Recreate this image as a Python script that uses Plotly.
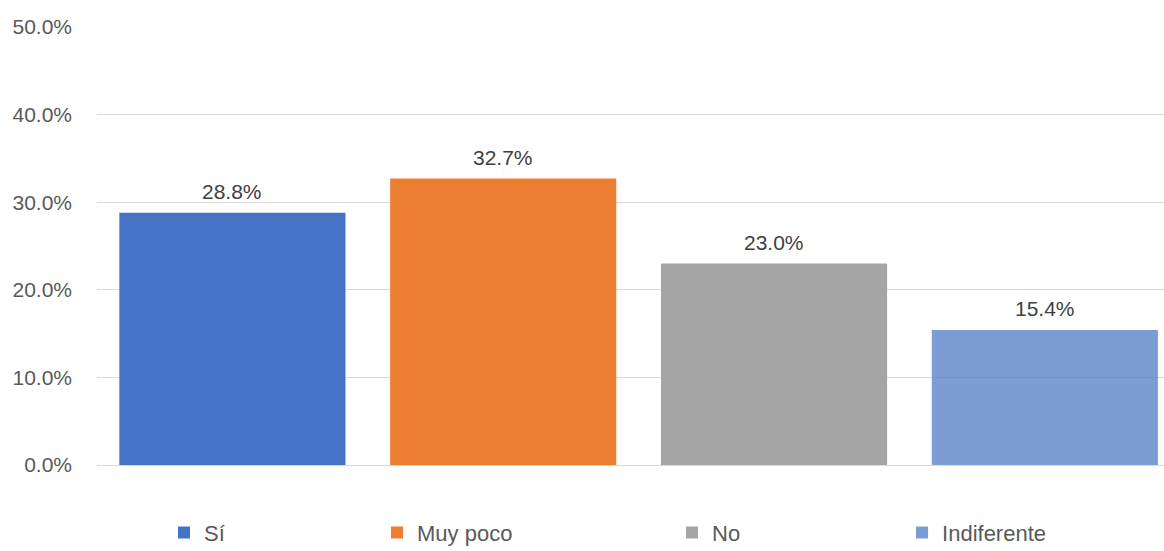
import plotly.graph_objects as go

categories = ["Sí", "Muy poco", "No", "Indiferente"]
values = [0.288, 0.327, 0.230, 0.154]
colors = ["#4472C4", "#ED7D31", "#A5A5A5", "rgba(68,114,196,0.7)"]
legend_x = [0.0628, 0.2624, 0.5389, 0.7545]

FONT = "Liberation Sans, Arial, sans-serif"

fig = go.Figure()
legend_names = ["legend", "legend2", "legend3", "legend4"]
for i, (cat, val) in enumerate(zip(categories, values)):
    fig.add_trace(go.Bar(
        x=[cat], y=[val], name=cat,
        marker=dict(color=colors[i], line=dict(width=0)),
        width=0.835,
        legend=legend_names[i],
    ))
    fig.add_annotation(
        x=cat, y=val, xref="x", yref="y",
        text=f"{val:.1%}", showarrow=False,
        yanchor="bottom", yshift=8,
        font=dict(family=FONT, size=21, color="#404040"),
    )

layout_legends = {}
for i, ln in enumerate(legend_names):
    layout_legends[ln] = dict(
        x=legend_x[i], xanchor="left",
        y=0.033, yref="container", yanchor="middle",
        orientation="h", bgcolor="rgba(0,0,0,0)",
        font=dict(family=FONT, size=22, color="#595959"),
    )

fig.update_layout(
    width=1164, height=551,
    margin=dict(l=97, r=0, t=27, b=86, autoexpand=False),
    paper_bgcolor="white", plot_bgcolor="white",
    showlegend=True,
    barmode="group",
    font=dict(family=FONT, size=21, color="#595959"),
    xaxis=dict(
        categoryorder="array", categoryarray=categories,
        range=[-0.5, 3.44], showticklabels=False, showgrid=False,
        zeroline=False, showline=False, ticks="",
    ),
    yaxis=dict(
        range=[0, 0.5], dtick=0.1, tickformat=".1%",
        showgrid=True, gridcolor="#D9D9D9", gridwidth=1,
        zeroline=True, zerolinecolor="#D9D9D9", zerolinewidth=1,
        showline=False, ticks="", ticklabelstandoff=24,
        tickfont=dict(family=FONT, size=21, color="#595959"),
    ),
    **layout_legends,
)

fig.write_html("out.html")
